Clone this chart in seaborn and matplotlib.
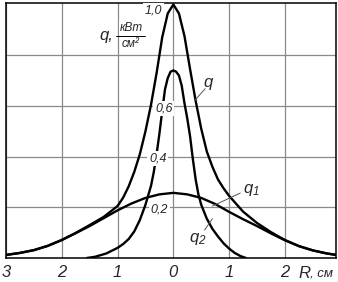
import matplotlib
matplotlib.use("Agg")
import matplotlib.pyplot as plt
import pandas as pd
import seaborn as sns

# ---- data ----
R_q1 = [-3.0, -2.75, -2.5, -2.25, -2.0, -1.75, -1.5, -1.25, -1.0, -0.75, -0.5, -0.25,
        0.0, 0.25, 0.5, 0.75, 1.0, 1.25, 1.5, 1.75, 2.0, 2.25, 2.5, 2.75, 2.92]
v_q1 = [0.012, 0.020, 0.031, 0.048, 0.071, 0.098, 0.126, 0.157, 0.188, 0.215, 0.237, 0.251,
        0.257, 0.251, 0.237, 0.213, 0.182, 0.153, 0.126, 0.097, 0.070, 0.047, 0.030, 0.018, 0.012]

R_q = [-3.0, -2.75, -2.5, -2.25, -2.0, -1.75, -1.5, -1.25, -1.0, -0.9, -0.8, -0.7, -0.6, -0.5,
       -0.4, -0.3, -0.2, -0.1, 0.0, 0.1, 0.2, 0.3, 0.4, 0.5, 0.6, 0.7, 0.8, 0.9, 1.0,
       1.25, 1.5, 1.75, 2.0, 2.25, 2.5, 2.75, 2.92]
v_q = [0.012, 0.020, 0.031, 0.048, 0.071, 0.099, 0.130, 0.162, 0.205, 0.238, 0.283, 0.340, 0.410, 0.500,
       0.605, 0.730, 0.870, 0.965, 1.000, 0.965, 0.875, 0.745, 0.620, 0.510, 0.420, 0.360, 0.310, 0.275, 0.245,
       0.183, 0.138, 0.102, 0.071, 0.047, 0.030, 0.018, 0.012]

R_q2 = [-1.55, -1.4, -1.2, -1.0, -0.9, -0.8, -0.7, -0.6, -0.5, -0.4, -0.35, -0.3, -0.25, -0.2,
        -0.15, -0.1, -0.05, 0.0, 0.05, 0.1, 0.15, 0.2, 0.25, 0.3, 0.35, 0.4, 0.45, 0.5,
        0.6, 0.7, 0.8, 0.9, 1.0, 1.1, 1.2, 1.3]
v_q2 = [0.0, 0.005, 0.018, 0.040, 0.055, 0.075, 0.105, 0.150, 0.210, 0.285, 0.340, 0.410, 0.490, 0.580,
        0.665, 0.710, 0.735, 0.740, 0.735, 0.720, 0.680, 0.610, 0.550, 0.480, 0.390, 0.310, 0.250, 0.210,
        0.155, 0.115, 0.085, 0.058, 0.037, 0.020, 0.008, 0.0]

x_ticks = [-3, -2, -1, 0, 1, 2]
x_tick_labels = ["3", "2", "1", "0", "1", "2"]
y_grid = [0.2, 0.4, 0.6, 0.8]
y_value_labels = ["0,2", "0,4", "0,6", "1,0"]

# ---- style ----
sns.set_style("white")
plt.rcParams['font.family'] = ['Liberation Sans', 'DejaVu Sans']
plt.rcParams['mathtext.fontset'] = 'custom'
plt.rcParams['mathtext.it'] = 'Liberation Sans:italic'
plt.rcParams['mathtext.rm'] = 'Liberation Sans:italic'

fig = plt.figure(figsize=(3.38, 2.82), dpi=100)
ax = fig.add_axes([6 / 338, 24 / 282, 330 / 338, 255 / 282])

df1 = pd.DataFrame({"R": R_q1, "v": v_q1})
df = pd.DataFrame({"R": R_q, "v": v_q})
df2 = pd.DataFrame({"R": R_q2, "v": v_q2})

lw = 1.7
for d in (df1, df, df2):
    sns.lineplot(data=d, x="R", y="v", ax=ax, color="black", lw=lw,
                 estimator=None, sort=False, zorder=3)

ax.set_xlim(-3.0, 2.916)
ax.set_ylim(0, 1.006)
ax.set_xticks(x_ticks)
ax.set_xticklabels(x_tick_labels, fontstyle="italic", fontsize=12)
ax.set_yticks(y_grid)
ax.set_yticklabels([])
ax.tick_params(axis="both", length=0)
ax.tick_params(axis="x", pad=5)
ax.set_xlabel("")
ax.set_ylabel("")
ax.grid(True, color="#8a8a8a", lw=0.9, zorder=0)
ax.set_axisbelow(True)
for s in ax.spines.values():
    s.set_color("black")
    s.set_linewidth(1.1)

# value labels inside the plot
bb = dict(facecolor="white", edgecolor="none", pad=1.2)
val_pos = [(-0.25, 0.192), (-0.28, 0.392), (-0.17, 0.590), (-0.36, 0.975)]
for (x, y), t in zip(val_pos, y_value_labels):
    ax.text(x, y, t, ha="center", va="center", fontsize=9, fontstyle="italic",
            bbox=bb, zorder=5)

# axis title q, kW/cm^2
ax.text(-1.2, 0.878, "q,", ha="center", va="center", fontsize=12, fontstyle="italic",
        bbox=dict(facecolor="white", edgecolor="none", pad=0.5), zorder=5)
ax.text(-0.75, 0.907, "кВт", ha="center", va="center", fontsize=8.5, fontstyle="italic",
        bbox=dict(facecolor="white", edgecolor="none", pad=0.5), zorder=5)
ax.text(-0.77, 0.845, "см²", ha="center", va="center", fontsize=8.5, fontstyle="italic",
        bbox=dict(facecolor="white", edgecolor="none", pad=0.5), zorder=5)
ax.plot([-1.03, -0.50], [0.877, 0.877], color="black", lw=0.7, zorder=6)

# curve labels with leaders
ax.text(0.62, 0.694, "q", ha="center", va="center", fontsize=12, fontstyle="italic", zorder=5)
ax.plot([0.39, 0.57], [0.623, 0.668], color="#555555", lw=0.7, zorder=4)
ax.text(1.39, 0.268, "$q_1$", ha="center", va="center", fontsize=12, zorder=5)
ax.plot([0.70, 1.20], [0.205, 0.256], color="#555555", lw=0.7, zorder=4)
ax.text(0.43, 0.076, "$q_2$", ha="center", va="center", fontsize=12, zorder=5)
ax.plot([0.56, 0.70], [0.110, 0.155], color="#555555", lw=0.7, zorder=4)

# R, cm
fig.text(298.5 / 338, 1 - 273 / 282, "R", ha="left", va="center", fontsize=12, fontstyle="italic")
fig.text(309.5 / 338, 1 - 274 / 282, ", см", ha="left", va="center", fontsize=9.5, fontstyle="italic")

fig.savefig("out.png", dpi=100)
